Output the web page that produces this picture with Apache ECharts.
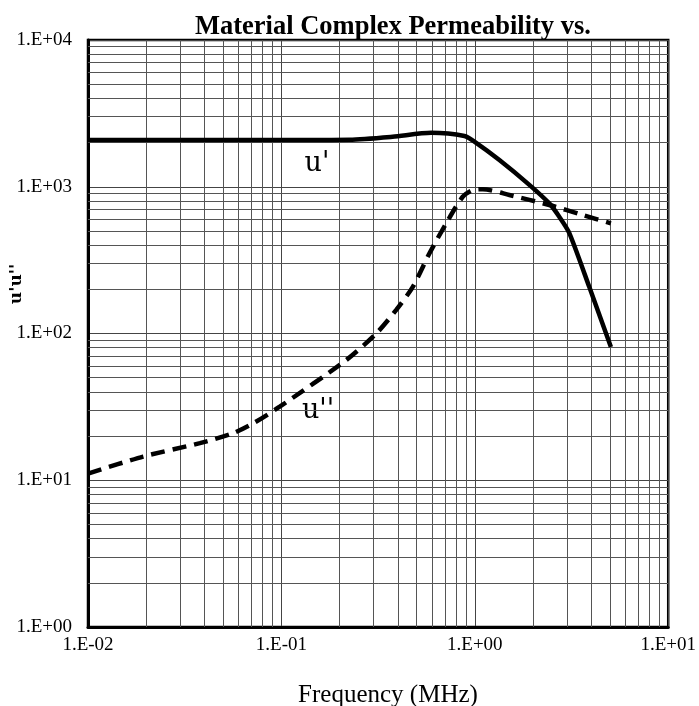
<!DOCTYPE html>
<html>
<head>
<meta charset="utf-8">
<script src="https://cdn.jsdelivr.net/npm/echarts@6/dist/echarts.min.js"></script>
<style>
  html, body { margin: 0; padding: 0; background: #fff; }
  #chart { width: 699px; height: 706px; }
</style>
</head>
<body>
<div id="chart"></div>
<script>
// ---- Data ----
const freqUPrime = [0.01, 0.05, 0.15, 0.225, 0.3755, 0.595, 0.884, 0.995, 1.34, 1.914, 2.427, 2.733, 3.077, 3.905, 5.055];
const uPrime     = [2080, 2080, 2085, 2090, 2190, 2330, 2215, 2030, 1520, 1030, 770, 625, 485, 208, 81];

const freqUDouble = [0.01, 0.0193, 0.0379, 0.0562, 0.0714, 0.098, 0.2166, 0.3094, 0.3925, 0.478, 0.583, 0.711, 0.866, 0.975, 1.099, 1.509, 2.427, 3.606, 5.055];
const uDouble     = [11.1, 14.5, 17.9, 20.9, 24.4, 31.7, 66, 100, 145, 208, 352, 563, 855, 950, 961, 879, 751, 642, 563];

const xTickExps = [-2, -1, 0, 1];
const xTickLabels = ['1.E-02', '1.E-01', '1.E+00', '1.E+01'];
const yTickExps = [0, 1, 2, 3, 4];
const yTickLabels = ['1.E+00', '1.E+01', '1.E+02', '1.E+03', '1.E+04'];
const minorMultipliers = [2, 3, 4, 5, 6, 7, 8, 9];

const titleText = 'Material Complex Permeability vs.';
const xName = 'Frequency (MHz)';
const yName = "u'u''";
const labelUPrime = "u'";
const labelUDouble = "u''";

// ---- Build ----
function labelFor(exps, labels, v) {
  const e = Math.round(Math.log10(v));
  const i = exps.indexOf(e);
  return i >= 0 ? labels[i] : '';
}
const xMinor = [], yMinor = [];
for (let i = 0; i < xTickExps.length - 1; i++)
  minorMultipliers.forEach(m => xMinor.push(m * Math.pow(10, xTickExps[i])));
for (let i = 0; i < yTickExps.length - 1; i++)
  minorMultipliers.forEach(m => yMinor.push(m * Math.pow(10, yTickExps[i])));

const serifTick = 'Liberation Serif';
const chart = echarts.init(document.getElementById('chart'), null, { renderer: 'canvas' });
chart.setOption({
  backgroundColor: '#fff',
  animation: false,
  title: {
    text: titleText,
    left: 190, top: 9,
    textStyle: { fontFamily: 'Liberation Serif', fontWeight: 'bold', fontSize: 26.5, color: '#000' }
  },
  grid: { left: 88, top: 40, right: 30, bottom: 79, show: true, borderColor: '#000', borderWidth: 2.5, backgroundColor: 'transparent' },
  xAxis: {
    type: 'log', logBase: 10,
    min: Math.pow(10, xTickExps[0]), max: Math.pow(10, xTickExps[xTickExps.length - 1]),
    axisLine: { show: true, lineStyle: { color: '#000', width: 3 } },
    axisTick: { show: false },
    axisLabel: { color: '#000', fontFamily: serifTick, fontSize: 19, margin: 9,
      formatter: v => labelFor(xTickExps, xTickLabels, v) },
    splitLine: { show: true, lineStyle: { color: '#444', width: 1 } }
  },
  yAxis: {
    type: 'log', logBase: 10,
    min: Math.pow(10, yTickExps[0]), max: Math.pow(10, yTickExps[yTickExps.length - 1]),
    axisLine: { show: true, lineStyle: { color: '#000', width: 3 } },
    axisTick: { show: false },
    axisLabel: { color: '#000', fontFamily: serifTick, fontSize: 19, margin: 16,
      formatter: v => labelFor(yTickExps, yTickLabels, v) },
    splitLine: { show: true, lineStyle: { color: '#444', width: 1 } }
  },
  graphic: [
    { type: 'text', x: 17, y: 284, rotation: Math.PI / 2,
      style: { text: yName, fontFamily: 'DejaVu Serif', fontWeight: 'bold', fontSize: 17, fill: '#000', align: 'center', verticalAlign: 'middle' } },
    { type: 'text', x: 388, y: 695,
      style: { text: xName, fontFamily: 'Liberation Serif', fontSize: 25, fill: '#000', align: 'center', verticalAlign: 'middle' } },
    { type: 'text', x: 317, y: 164,
      style: { text: labelUPrime, fontFamily: 'DejaVu Serif', fontSize: 27, fill: '#000', align: 'center', verticalAlign: 'middle' } },
    { type: 'text', x: 318, y: 411,
      style: { text: labelUDouble, fontFamily: 'DejaVu Serif', fontSize: 27, fill: '#000', align: 'center', verticalAlign: 'middle' } }
  ],
  series: [
    {
      name: 'grid', type: 'line', data: [], z: 1, silent: true,
      markLine: {
        silent: true, symbol: ['none', 'none'], animation: false,
        label: { show: false },
        lineStyle: { color: '#555', width: 1, type: 'solid' },
        emphasis: { disabled: true },
        data: xMinor.map(v => ({ xAxis: v })).concat(yMinor.map(v => ({ yAxis: v })))
      }
    },
    {
      name: "u'", type: 'line', z: 5, symbol: 'none', smooth: 0.25,
      data: freqUPrime.map((f, i) => [f, uPrime[i]]),
      lineStyle: { color: '#000', width: 4.5 }
    },
    {
      name: "u''", type: 'line', z: 5, symbol: 'none', smooth: 0.25,
      data: freqUDouble.map((f, i) => [f, uDouble[i]]),
      lineStyle: { color: '#000', width: 4.5, type: [14, 8] }
    }
  ]
});
</script>
</body>
</html>
